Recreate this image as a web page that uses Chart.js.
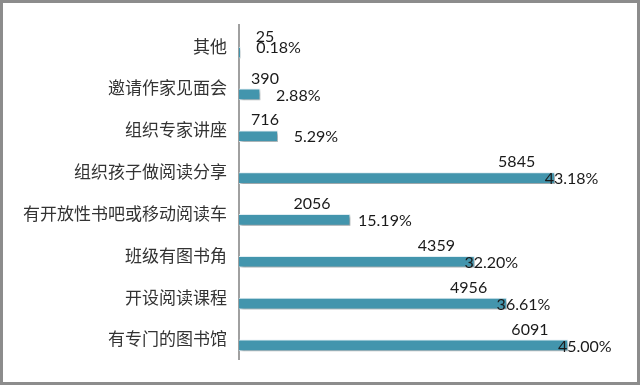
<!DOCTYPE html>
<html>
<head>
<meta charset="utf-8">
<script src="https://cdn.jsdelivr.net/npm/chart.js@4.4.1/dist/chart.umd.min.js"></script>
<style>
  html, body { margin: 0; padding: 0; background: #fff; }
  #wrap {
    width: 640px; height: 385px; box-sizing: border-box;
    border: 3px solid #8c8c8c; background: #fff;
  }
  #readingChart { display: block; }
</style>
</head>
<body>
<div id="wrap"><canvas id="readingChart" width="634" height="379"></canvas></div>
<script>
// survey answers, top to bottom as drawn
let categories = ["其他", "邀请作家见面会", "组织专家讲座", "组织孩子做阅读分享",
  "有开放性书吧或移动阅读车", "班级有图书角", "开设阅读课程", "有专门的图书馆"];
let counts = [25, 390, 716, 5845, 2056, 4359, 4956, 6091];
let percents = ["0.18%", "2.88%", "5.29%", "43.18%", "15.19%", "32.20%", "36.61%", "45.00%"];

let barColor = "#4395ad";
let numberFont = "16px Lato";

// soft drop shadow under the bars
let barShadow = {
  id: "barShadow",
  beforeDatasetDraw(chart, args) {
    if (args.index !== 1) return;
    let ctx = chart.ctx;
    ctx.save();
    ctx.shadowColor = "rgba(0,0,0,0.35)";
    ctx.shadowBlur = 3;
    ctx.shadowOffsetX = 2;
    ctx.shadowOffsetY = 2;
  },
  afterDatasetDraw(chart, args) {
    if (args.index !== 1) return;
    chart.ctx.restore();
  },
};

// count above the bar end, percentage beside it
let barLabels = {
  id: "barLabels",
  afterDatasetsDraw(chart) {
    let ctx = chart.ctx;
    let meta = chart.getDatasetMeta(1);
    let axisX = chart.scales.x.getPixelForValue(0);
    ctx.save();
    ctx.font = numberFont;
    ctx.fillStyle = "#1a1a1a";
    ctx.textBaseline = "middle";
    meta.data.forEach((bar, i) => {
      let len = bar.x - axisX;
      ctx.textAlign = "center";
      ctx.fillText(String(counts[i]), Math.max(bar.x - 38, axisX + 26), bar.y - 16);
      ctx.textAlign = "left";
      let px = len < 100 ? bar.x + 16 : len < 200 ? bar.x + 8 : bar.x - 10;
      ctx.fillText(percents[i], px, i === 0 ? bar.y - 5 : bar.y + 1);
    });
    ctx.restore();
  },
};

new Chart("readingChart", {
  type: "bar",
  plugins: [barShadow, barLabels],
  data: {
    labels: categories,
    datasets: [
      {
        // empty slot that pushes the real bars to the lower half of each row
        data: categories.map(() => null),
        barThickness: 13,
        maxBarThickness: 11,
        backgroundColor: "rgba(0,0,0,0)",
      },
      {
        data: counts,
        barThickness: 13,
        maxBarThickness: 11,
        backgroundColor: barColor,
        borderColor: "rgba(225,240,245,0.9)",
        borderWidth: 1,
        borderSkipped: "start",
      },
    ],
  },
  options: {
    indexAxis: "y",
    responsive: false,
    animation: false,
    layout: {
      padding: { left: 0, top: 17, bottom: 18, right: 20 },
    },
    scales: {
      x: {
        display: false,
        min: 0,
        max: 7000,
      },
      y: {
        grid: { display: false, drawTicks: false },
        border: { display: true, color: "#a0a0a0", width: 2 },
        ticks: {
          padding: 12,
          color: "#333",
          font: { family: "'Noto Sans CJK SC'", size: 17 },
        },
        afterFit(scale) {
          scale.width = 236;
        },
      },
    },
    plugins: {
      legend: { display: false },
      tooltip: { enabled: false },
    },
  },
});
</script>
</body>
</html>
